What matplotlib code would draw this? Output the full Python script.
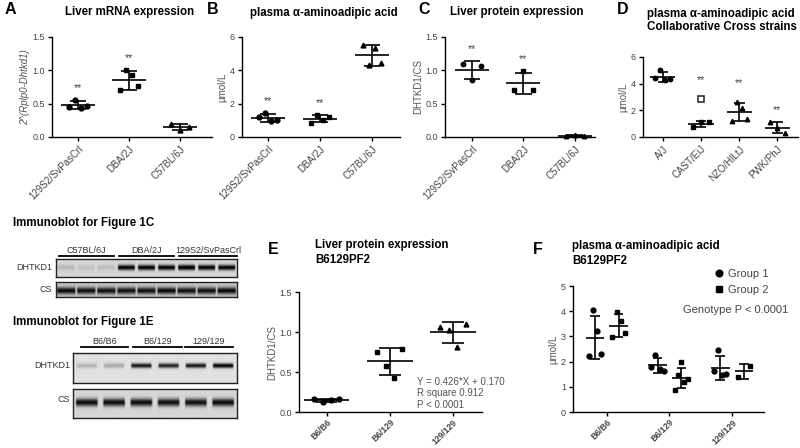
import numpy as np
import matplotlib
matplotlib.use('Agg')
import matplotlib.pyplot as plt
from matplotlib.lines import Line2D

plt.rcParams['font.family'] = ['Liberation Sans', 'DejaVu Sans']

# ---------------- data ----------------
strains_abc = ['129S2/SvPasCrl', 'DBA/2J', 'C57BL/6J']
a_129 = [0.45, 0.56, 0.44, 0.46]
a_dba = [0.70, 1.01, 0.93, 0.76]
a_b6 = [0.19, 0.11, 0.15]
b_129 = [1.20, 1.45, 0.95, 1.00]
b_dba = [0.86, 1.33, 1.02, 1.22]
b_b6 = [5.50, 4.33, 5.35, 4.41]
c_129 = [1.10, 0.85, 1.07]
c_dba = [0.71, 0.99, 0.71]
c_b6 = [0.020, 0.025, 0.015]
strains_d = ['A/J', 'CAST/EiJ', 'NZO/HlLtJ', 'PWK/PhJ']
d_aj = [4.40, 5.00, 4.27, 4.33]
d_cast = [0.74, 1.13, 1.13]
d_cast_outlier = [2.87]
d_nzo = [1.22, 2.66, 2.20, 1.36]
d_pwk = [1.10, 0.70, 0.30]
genotypes = ['B6/B6', 'B6/129', '129/129']
e_b6 = [0.16, 0.12, 0.15, 0.16]
e_het = [0.75, 0.57, 0.43, 0.79]
e_129 = [1.06, 1.02, 0.81, 1.10]
regression_text = ['Y = 0.426*X + 0.170', 'R square 0.912', 'P < 0.0001']
f_group1 = [[2.24, 4.05, 3.20, 2.30], [1.80, 2.28, 1.70, 1.62], [1.62, 2.45, 1.45, 1.50]]
f_group2 = [[2.97, 3.95, 3.63, 3.13], [0.87, 1.46, 1.97, 1.18, 1.32], [1.40, 1.82]]
f_groups = ['Group 1', 'Group 2']
f_pvalue = 'Genotype P < 0.0001'

blot1c_groups = ['C57BL/6J', 'DBA/2J', '129S2/SvPasCrl']
blot1c_dhtkd1 = [0.12, 0.08, 0.10, 0.85, 0.85, 0.85, 0.90, 0.85, 0.85]
blot1c_cs = [0.75, 0.72, 0.72, 0.72, 0.72, 0.75, 0.72, 0.72, 0.75]
blot1e_groups = ['B6/B6', 'B6/129', '129/129']
blot1e_dhtkd1 = [0.18, 0.22, 0.80, 0.75, 0.80, 0.90]
blot1e_cs = [0.80, 0.80, 0.80, 0.78, 0.78, 0.80]

# ---------------- figure ----------------
W, H = 800, 448
fig = plt.figure(figsize=(8, 4.48), dpi=100)
GRAY = '#555555'
TSIZE = 8.3

def add_ax(l, r, t, b):
    return fig.add_axes([l / W, 1 - b / H, (r - l) / W, (b - t) / H])

def style(ax, xlim, ylim, yticks, yfmt, labels, ylabel, bold=False, italic=False,
          xsize=7, xpad=2):
    ax.set_xlim(*xlim)
    ax.set_ylim(*ylim)
    for s in ['top', 'right']:
        ax.spines[s].set_visible(False)
    for s in ['left', 'bottom']:
        ax.spines[s].set_linewidth(1.0)
    ax.set_yticks(yticks)
    ax.set_yticklabels([yfmt.format(v) for v in yticks])
    ax.set_xticks(range(len(labels)))
    ax.set_xticklabels(labels, rotation=45, ha='right', rotation_mode='anchor',
                       fontweight='bold' if bold else 'normal')
    ax.tick_params(axis='both', length=3, width=1, labelsize=6.5, labelcolor='#444444', pad=2)
    ax.tick_params(axis='x', labelsize=xsize, pad=xpad)
    ax.set_ylabel(ylabel, fontsize=7, color=GRAY, labelpad=2,
                  style='italic' if italic else 'normal')

def dotplot(ax, x, vals, marker, mean_hw, cap_hw, jit, ms=3.5):
    v = np.asarray(vals, dtype=float)
    n = len(v)
    offs = np.linspace(-jit, jit, n) if n > 1 else np.zeros(1)
    ax.plot(x + offs, v, ls='none', marker=marker, ms=ms, color='k', zorder=3, clip_on=False)
    m = v.mean()
    sd = v.std(ddof=1)
    ax.hlines(m, x - mean_hw, x + mean_hw, color='k', lw=1.2, zorder=4)
    ax.vlines(x, m - sd, m + sd, color='k', lw=1.2, zorder=4)
    ax.hlines([m - sd, m + sd], x - cap_hw, x + cap_hw, color='k', lw=1.2, zorder=4)
    return max(m + sd, v.max())

def stars(ax, x, top, off=5):
    ax.annotate('**', (x, top), xytext=(0, off), textcoords='offset points',
                ha='center', va='bottom', fontsize=7.5, color='#444444')

# overlay for free text
ov = fig.add_axes([0, 0, 1, 1], zorder=10)
ov.set_xlim(0, W)
ov.set_ylim(H, 0)
ov.axis('off')
ov.patch.set_alpha(0)

def ptxt(x, y, s, size=TSIZE, weight='bold', ha='left', va='center', color='k'):
    ov.text(x, y, s, fontsize=size, fontweight=weight, ha=ha, va=va, color=color)

# ---- A ----
axA = add_ax(52, 212, 37, 137)
markers3 = ['o', 's', '^']
for i, d in enumerate([a_129, a_dba, a_b6]):
    top = dotplot(axA, i, d, markers3[i], 0.33, 0.16, 0.18)
    if i < 2:
        stars(axA, i, top)
style(axA, (-0.51, 2.63), (0, 1.5), [0, 0.5, 1.0, 1.5], '{:.1f}', strains_abc,
      '2^(Rplp0-Dhtkd1)', italic=True)
ptxt(5, 10, 'A', size=11.5)
ptxt(130, 12, 'Liver mRNA expression', ha='center')

# ---- B ----
axB = add_ax(242, 400, 37, 137)
for i, d in enumerate([b_129, b_dba, b_b6]):
    top = dotplot(axB, i, d, markers3[i], 0.33, 0.16, 0.18)
    if i < 2:
        stars(axB, i, top)
style(axB, (-0.5, 2.54), (0, 6), [0, 2, 4, 6], '{:.0f}', strains_abc, 'µmol/L')
ptxt(207, 10, 'B', size=11.5)
ptxt(250, 13, 'plasma α-aminoadipic acid')

# ---- C ----
axC = add_ax(445, 595, 37, 137)
for i, d in enumerate([c_129, c_dba, c_b6]):
    top = dotplot(axC, i, d, markers3[i], 0.33, 0.16, 0.18, ms=3.2)
    if i < 2:
        stars(axC, i, top)
style(axC, (-0.52, 2.39), (0, 1.5), [0, 0.5, 1.0, 1.5], '{:.1f}', strains_abc, 'DHTKD1/CS')
ptxt(418, 10, 'C', size=11.5)
ptxt(517, 12, 'Liver protein expression', ha='center')

# ---- D ----
axD = add_ax(643, 798, 57, 137)
markers4 = ['o', 's', '^', '^']
star_off_d = [0, 10, 10, 5]
for i, d in enumerate([d_aj, d_cast, d_nzo, d_pwk]):
    top = dotplot(axD, i, d, markers4[i], 0.33, 0.14, 0.2, ms=3.2)
    if i == 1:
        top = max(top, max(d_cast_outlier))
    if i > 0:
        stars(axD, i, top, star_off_d[i])
axD.plot([1] * len(d_cast_outlier), d_cast_outlier, ls='none', marker='s', ms=4,
         mfc='white', mec='#333333', mew=1.2, zorder=3)
style(axD, (-0.52, 3.54), (0, 6), [0, 2, 4, 6], '{:.0f}', strains_d, 'µmol/L')
ptxt(617, 10, 'D', size=11.5)
ptxt(647, 14, 'plasma α-aminoadipic acid')
ptxt(647, 27, 'Collaborative Cross strains')

# ---- E ----
axE = add_ax(299, 482, 292, 412)
for i, d in enumerate([e_b6, e_het, e_129]):
    dotplot(axE, i, d, markers3[i], 0.36, 0.17, 0.2)
style(axE, (-0.44, 2.46), (0, 1.5), [0, 0.5, 1.0, 1.5], '{:.1f}', genotypes, 'DHTKD1/CS',
      bold=True, xsize=6.2, xpad=1)
for k, s in enumerate(regression_text):
    ptxt(417, 382 + 11.5 * k, s, size=7, weight='normal', color=GRAY)
ptxt(268, 250, 'E', size=11.5)
ptxt(315, 245, 'Liver protein expression')
ptxt(315, 260, 'B6129PF2')

# ---- F ----
axF = add_ax(573, 764, 286, 412)
for i in range(3):
    dotplot(axF, i - 0.19, f_group1[i], 'o', 0.15, 0.075, 0.1)
    dotplot(axF, i + 0.19, f_group2[i], 's', 0.15, 0.075, 0.1)
style(axF, (-0.54, 2.51), (0, 5), [0, 1, 2, 3, 4, 5], '{:.0f}', genotypes, 'µmol/L',
      bold=True, xsize=6.2, xpad=1)
handles = [Line2D([], [], ls='none', marker='o', ms=4.8, color='k'),
           Line2D([], [], ls='none', marker='s', ms=4.8, color='k')]
leg = axF.legend(handles, f_groups, loc='upper left', frameon=False, fontsize=8,
                 bbox_to_anchor=(707 / W, 1 - 263 / H), bbox_transform=fig.transFigure,
                 handletextpad=0.15, labelspacing=0.55, handlelength=1.2, borderpad=0)
for t in leg.get_texts():
    t.set_color('#444444')
ptxt(683, 310, f_pvalue, size=8, weight='normal', color='#444444')
ptxt(533, 250, 'F', size=11.5)
ptxt(572, 246, 'plasma α-aminoadipic acid')
ptxt(572, 261, 'B6129PF2')

# ---- blots ----
def blot(l, r, t, b, lanes, bg, center, sigma, width_frac=0.8):
    ax = add_ax(l, r, t, b)
    ny, nx = 60, 400
    yy = np.linspace(0, 1, ny)[:, None]
    xx = np.linspace(0, len(lanes), nx)[None, :]
    lane_idx = np.clip(np.floor(xx).astype(int), 0, len(lanes) - 1)
    frac = xx - np.floor(xx)
    xprof = np.clip((width_frac / 2 - np.abs(frac - 0.5)) / 0.06, 0, 1)
    inten = np.asarray(lanes)[lane_idx]
    yprof = np.exp(-0.5 * ((yy - center) / sigma) ** 2)
    img = bg - inten * xprof * yprof
    ax.imshow(img, cmap='gray', vmin=0, vmax=1, aspect='auto', interpolation='bilinear',
              extent=(0, len(lanes), 1, 0))
    ax.set_xticks([])
    ax.set_yticks([])
    for s in ax.spines.values():
        s.set_linewidth(1.0)
        s.set_color('#222222')
    return ax

ptxt(13, 223, 'Immunoblot for Figure 1C')
blot(56, 237, 259, 277, blot1c_dhtkd1, 0.84, 0.5, 0.1, 0.9)
blot(56, 237, 282, 297, blot1c_cs, 0.78, 0.58, 0.16, 0.97)
ptxt(52, 268, 'DHTKD1', size=6.5, weight='normal', ha='right', color='#333333')
ptxt(52, 289, 'CS', size=6.5, weight='normal', ha='right', color='#333333')
for (x0, x1), name in zip([(59, 114), (119, 174), (179, 237)], blot1c_groups):
    ov.plot([x0, x1], [256, 256], color='k', lw=1.3)
    ptxt((x0 + x1) / 2, 250.5, name, size=6.5, weight='normal', ha='center', color='#333333')

ptxt(13, 322, 'Immunoblot for Figure 1E')
blot(73, 237, 353, 383, blot1e_dhtkd1, 0.88, 0.42, 0.055, 0.8)
blot(73, 237, 389, 418, blot1e_cs, 0.84, 0.48, 0.09, 0.85)
ptxt(70, 366, 'DHTKD1', size=6.5, weight='normal', ha='right', color='#333333')
ptxt(70, 400, 'CS', size=6.5, weight='normal', ha='right', color='#333333')
for (x0, x1), name in zip([(81, 128), (133, 182), (185, 233)], blot1e_groups):
    ov.plot([x0, x1], [347, 347], color='k', lw=1.3)
    ptxt((x0 + x1) / 2, 341.5, name, size=6.5, weight='normal', ha='center', color='#333333')

fig.savefig('out.png', dpi=100)
